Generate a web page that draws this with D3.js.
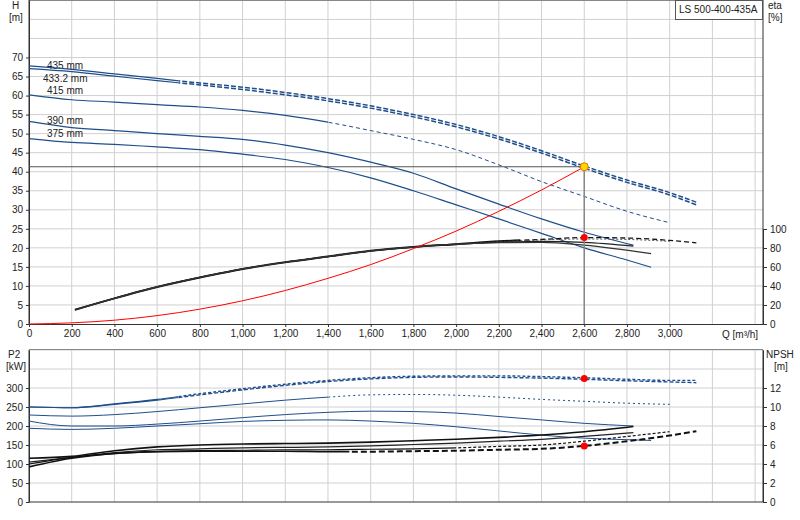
<!DOCTYPE html>
<html><head><meta charset="utf-8">
<script src="https://cdn.jsdelivr.net/npm/d3@7"></script>
<style>body{margin:0;background:#fff}text{font-family:"Liberation Sans",Arial,sans-serif;font-size:10px;fill:#222}</style>
</head><body><svg id="c" width="800" height="520"></svg>
<script>
const qTicks=[0,200,400,600,800,1000,1200,1400,1600,1800,2000,2200,2400,2600,2800,3000];
const hTicks=[0,5,10,15,20,25,30,35,40,45,50,55,60,65,70];
const etaTicks=[0,20,40,60,80,100];
const p2Ticks=[0,50,100,150,200,250,300];
const npshTicks=[0,2,4,6,8,10,12];
const Q=[0,200,400,600,800,1000,1200,1400,1600,1800,2000,2200,2400,2600,2800,3000];
const H435=[67.8,66.9,65.7,64.5,63.3,62.2,60.8,59.2,57.3,55.0,52.4,49.2,45.5,41.5,37.8,34.5];
const H433=[67.1,66.3,65.1,63.9,62.8,61.6,60.2,58.6,56.7,54.4,51.8,48.6,44.9,40.9,37.2,33.9];
const H415=[60.2,58.9,58.3,57.6,57.0,56.1,54.8,53.0,50.8,48.5,45.8,41.8,37.4,33.5,29.6,26.6];
const H390=[53.2,51.6,50.8,50.0,49.3,48.5,47.0,45.0,42.5,39.6,35.5,31.5,27.6,24.1,21.6];
const H375=[48.7,47.7,47.2,46.5,45.8,44.6,43.2,41.1,38.4,35.0,31.3,27.6,23.8,20.0,16.8];
const Qe=[215,400,600,800,1000,1200,1400,1600,1800,2000,2200,2400,2600,2800,3000];
const E435=[15,27,39,49,58,65,71,77,81,84,87,89,91,90.5,88];
const E415=[15,27,39,49,58,65,71,77,81,84,86.5,88.5,89.5,89,87];
const E390=[15,27,39,49,58,65,71,77,81,84,86,87,86,82];
const E375=[15,27,39,49,58,65,71,77,81,84,85.5,86,83,77];
const sysQ=[0,200,400,600,800,1000,1200,1400,1600,1800,2000,2200,2400,2600];
const sysH=[0,0.3,1.0,2.2,3.9,6.1,8.8,12.0,15.6,19.8,24.4,29.6,35.2,41.3];
const duty={q:2600,h:41.3,eta:91,p2:325,npsh:5.9};
const P435=[250,248,258,270,285,298,310,320,327,331,332,332,330,327,323,320];
const P433=[250,248,257,268,282,295,307,317,324,328,329,328,326,323,319,316];
const P415=[229,226,230,238,248,258,268,276,282,283,281,276,270,265,260,257];
const P390=[213,200,200,205,213,222,230,236,239,238,234,225,216,207,200];
const P375=[194,191,194,200,206,212,215,216,213,207,198,187,176,168,164];
const N1=[4.6,4.8,5.4,5.8,6.0,6.1,6.15,6.2,6.3,6.45,6.6,6.8,7.05,7.4,7.9];
const N2=[4.2,4.7,5.2,5.5,5.6,5.7,5.75,5.8,5.9,6.05,6.2,6.4,6.6,6.9,7.3];
const N3=[4.0,4.7,5.1,5.3,5.4,5.45,5.5,5.5,5.55,5.6,5.7,5.85,6.0,6.4,6.9,7.4];
const N4=[3.7,4.6,5.1,5.3,5.35,5.35,5.35,5.3,5.3,5.35,5.4,5.5,5.6,5.9,6.4,7.0];
const labels=[["435 mm",67.1],["433.2 mm",63.5],["415 mm",60.3],["390 mm",52.6],["375 mm",49.2]];

const svg=d3.select("#c");
const x=d3.scaleLinear().domain([0,3437]).range([29,763]);
const y=d3.scaleLinear().domain([0,85.1]).range([324,0]);
const ye=d3.scaleLinear().domain([0,100]).range([324,229]);
const yp=d3.scaleLinear().domain([0,400]).range([502,350]);
const yn=d3.scaleLinear().domain([0,16]).range([502,350]);
const blue="#1f4e8c";
const g=svg.append("g");
const vg=d3.range(200,3401,200);
g.selectAll(".v1").data(vg).join("line").attr("x1",d=>x(d)).attr("x2",d=>x(d)).attr("y1",0).attr("y2",324).attr("stroke","#d0d0d0");
g.selectAll(".h1").data(d3.range(5,86,5)).join("line").attr("x1",29).attr("x2",763).attr("y1",d=>y(d)).attr("y2",d=>y(d)).attr("stroke","#d0d0d0");
g.selectAll(".v2").data(vg).join("line").attr("x1",d=>x(d)).attr("x2",d=>x(d)).attr("y1",350).attr("y2",502).attr("stroke","#d0d0d0");
g.selectAll(".h2").data(d3.range(50,401,50)).join("line").attr("x1",29).attr("x2",763).attr("y1",d=>yp(d)).attr("y2",d=>yp(d)).attr("stroke","#d0d0d0");
g.append("line").attr("x1",29).attr("x2",763).attr("y1",0.5).attr("y2",0.5).attr("stroke","#888");
g.append("line").attr("x1",29).attr("x2",763).attr("y1",349.5).attr("y2",349.5).attr("stroke","#888");
const ax=(sel,a)=>{sel.call(a);sel.selectAll("text").style("font-size","10px");sel.select(".domain").attr("stroke","#333");sel.selectAll(".tick line").attr("stroke","#333");};
ax(svg.append("g").attr("transform","translate(29,0)"),d3.axisLeft(y).tickValues(hTicks).tickSize(3).tickSizeOuter(0));
ax(svg.append("g").attr("transform","translate(0,324)"),d3.axisBottom(x).tickValues(qTicks).tickSize(3).tickSizeOuter(0).tickFormat(d3.format(",")));
ax(svg.append("g").attr("transform","translate(763,0)"),d3.axisRight(ye).tickValues(etaTicks).tickSize(4).tickSizeOuter(0));
svg.append("line").attr("x1",763).attr("x2",763).attr("y1",0).attr("y2",324).attr("stroke","#333");
svg.append("line").attr("x1",29).attr("x2",29).attr("y1",0).attr("y2",324).attr("stroke","#333");
ax(svg.append("g").attr("transform","translate(29,0)"),d3.axisLeft(yp).tickValues(p2Ticks).tickSize(3).tickSizeOuter(0));
ax(svg.append("g").attr("transform","translate(763,0)"),d3.axisRight(yn).tickValues(npshTicks).tickSize(4).tickSizeOuter(0));
svg.append("line").attr("x1",29).attr("x2",763).attr("y1",502).attr("y2",502).attr("stroke","#333");
svg.append("line").attr("x1",29).attr("x2",29).attr("y1",350).attr("y2",502).attr("stroke","#333");
svg.append("line").attr("x1",763).attr("x2",763).attr("y1",350).attr("y2",502).attr("stroke","#333");
const t=(s,px,py,a)=>svg.append("text").attr("x",px).attr("y",py).attr("text-anchor",a||"start").text(s);
t("H",12,9);t("[m]",9,21);t("eta",768,9);t("[%]",768,21);t("Q [m³/h]",722,338);
t("P2",8,358);t("[kW]",6,370);t("NPSH",766,358);t("[m]",774,370);
svg.append("rect").attr("x",675.5).attr("y",0.5).attr("width",87).attr("height",19).attr("fill","#fff").attr("stroke","#555");
t("LS 500-400-435A",679,13);
labels.forEach(([s,h])=>t(s,s.length>6?43:47,y(h)));
const line=(xs,ys,sx,sy)=>d3.line().curve(d3.curveMonotoneX).x(d=>sx(d[0])).y(d=>sy(d[1]))(xs.map((q,i)=>[q,ys[i]]));
const draw=(xs,ys,sx,sy,col,w,dash)=>svg.append("path").attr("d",line(xs,ys,sx,sy)).attr("fill","none").attr("stroke",col).attr("stroke-width",w).attr("stroke-dasharray",dash||null);
let cid=0;
const split=(xs,ys,q0,sx,sy,col,w,dash,ds)=>{
 cid++;
 svg.append("clipPath").attr("id","ca"+cid).append("rect").attr("x",0).attr("y",0).attr("width",sx(q0)).attr("height",520);
 svg.append("clipPath").attr("id","cb"+cid).append("rect").attr("x",sx(q0)).attr("y",0).attr("width",800).attr("height",520);
 draw(xs,ys,sx,sy,col,w).attr("clip-path",`url(#ca${cid})`);
 draw(xs,ys,sx,sy,col,ds||w,dash).attr("clip-path",`url(#cb${cid})`);
};
const ext=(a,b,q,h)=>[a.concat([q]),b.concat([h])];
let [a,b]=ext(Q,H435,3125,32.0); split(a,b,700,x,y,blue,1.2,"5,2",1.5);
[a,b]=ext(Q,H433,3125,31.3); split(a,b,700,x,y,blue,1.2,"5,2",1.5);
split(Q,H415,1400,x,y,blue,1.2,"4,3",1);
[a,b]=ext(Q.slice(0,14),H390.slice(0,14),2830,20.7); draw(a,b,x,y,blue,1.2);
[a,b]=ext(Q.slice(0,15),H375.slice(0,15),2913,14.9); draw(a,b,x,y,blue,1.2);
[a,b]=ext(Qe,E435,3125,85.5); split(a,b,2300,x,ye,"#111",2,"5,3",1.3);
draw(Qe,E415,x,ye,"#555",1,"2,2");
[a,b]=ext(Qe.slice(0,13),E390.slice(0,13),2830,82); draw(a,b,x,ye,"#222",1.2);
[a,b]=ext(Qe.slice(0,13),E375.slice(0,13),2913,74); draw(a,b,x,ye,"#333",1.2);
draw(sysQ,sysH,x,y,"#f00",1);
svg.append("line").attr("x1",29).attr("x2",x(duty.q)).attr("y1",y(duty.h)).attr("y2",y(duty.h)).attr("stroke","#555");
svg.append("line").attr("x1",x(duty.q)).attr("x2",x(duty.q)).attr("y1",y(duty.h)).attr("y2",324).attr("stroke","#888").attr("stroke-width",1.5);
svg.append("circle").attr("cx",x(duty.q)).attr("cy",y(duty.h)).attr("r",4).attr("fill","#ffd700").attr("stroke","#e07000");
svg.append("circle").attr("cx",x(duty.q)).attr("cy",ye(duty.eta)).attr("r",3.5).attr("fill","#f00");
[a,b]=ext(Q,P435,3125,320); split(a,b,700,x,yp,blue,1.2,"3,2",1.4);
[a,b]=ext(Q,P433,3125,314); split(a,b,700,x,yp,blue,1.2,"4,2",1.4);
split(Q,P415,1400,x,yp,blue,1,"2,3",1);
[a,b]=ext(Q.slice(0,14),P390.slice(0,14),2830,200); draw(a,b,x,yp,blue,1);
[a,b]=ext(Q.slice(0,15),P375.slice(0,15),2913,162); draw(a,b,x,yp,blue,1);
[a,b]=ext(Q.slice(0,14),N1.slice(0,14),2830,7.95); draw(a,b,x,yn,"#111",1.6);
[a,b]=ext(Q.slice(0,14),N2.slice(0,14),2830,7.3); draw(a,b,x,yn,"#222",1.2);
split(Q,N3,2000,x,yn,"#111",1.2,"3,2",1.2);
[a,b]=ext(Q,N4,3125,7.45); split(a,b,1500,x,yn,"#111",1.6,"6,3",2);
svg.append("circle").attr("cx",x(duty.q)).attr("cy",yp(duty.p2)).attr("r",3.5).attr("fill","#f00");
svg.append("circle").attr("cx",x(duty.q)).attr("cy",yn(duty.npsh)).attr("r",3.5).attr("fill","#f00");
</script></body></html>
